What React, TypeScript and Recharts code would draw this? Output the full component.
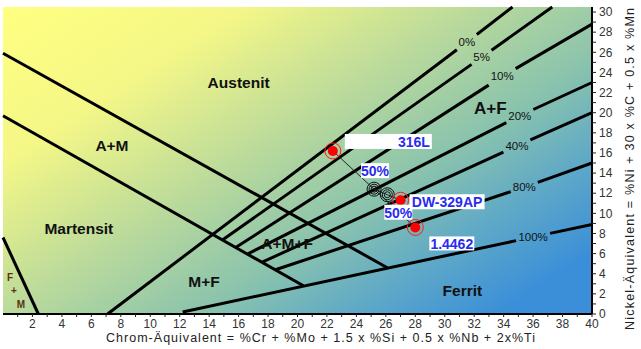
import React from 'react';
import { ComposedChart, XAxis, YAxis, ReferenceLine, ReferenceArea, Scatter } from 'recharts';

// ---------- data ----------
const X_TICKS = [1, 2, 3, 4, 5, 6, 7, 8, 9, 10, 11, 12, 13, 14, 15, 16, 17, 18, 19, 20, 21, 22, 23, 24, 25, 26, 27, 28, 29, 30, 31, 32, 33, 34, 35, 36, 37, 38, 39, 40];
const X_TICK_LABELS = [2, 4, 6, 8, 10, 12, 14, 16, 18, 20, 22, 24, 26, 28, 30, 32, 34, 36, 38, 40];
const Y_TICKS = [0, 1, 2, 3, 4, 5, 6, 7, 8, 9, 10, 11, 12, 13, 14, 15, 16, 17, 18, 19, 20, 21, 22, 23, 24, 25, 26, 27, 28, 29, 30];
const Y_TICK_LABELS = [0, 2, 4, 6, 8, 10, 12, 14, 16, 18, 20, 22, 24, 26, 28, 30];

const X_TITLE = 'Chrom-Äquivalent = %Cr + %Mo + 1.5 x %Si + 0.5 x %Nb + 2x%Ti';
const Y_TITLE = 'Nickel-Äquivalent = %Ni + 30 x %C + 0.5 x %Mn';

// phase boundary lines [x, y]
const austeniteLine = [[0, 25.9], [26.1, 4.6]];
const martensiteLine = [[0, 19.7], [20.4, 2.8]];
const fmLine = [[0, 7.6], [2.4, 0]];

// ferrite iso-lines: start, label point, end
const ferriteLines = [
  { label: '0%', points: [[7.1, 0], [31.5, 27.0], [34.6, 30.5]] },
  { label: '5%', points: [[14.9, 7.35], [32.5, 25.5], [37.3, 30.5]] },
  { label: '10%', points: [[15.8, 6.6], [33.9, 23.6], [40, 28.8]] },
  { label: '20%', points: [[16.6, 5.95], [35.1, 19.7], [40, 23.0]] },
  { label: '40%', points: [[17.6, 5.15], [34.9, 16.7], [40, 20.0]] },
  { label: '80%', points: [[18.5, 4.4], [35.4, 12.6], [40, 15.0]] },
  { label: '100%', points: [[12.2, 0.2], [36.0, 7.65], [40, 8.9]] },
];

const materials = [
  { id: '316L', label: '316L', x: 22.4, y: 16.2 },
  { id: 'DW-329AP', label: 'DW-329AP', x: 27.0, y: 11.3 },
  { id: '1.4462', label: '1.4462', x: 28.0, y: 8.6 },
];
const mixPoints = [
  { id: 'mix1', label: '50%', x: 25.2, y: 12.4 },
  { id: 'mix2', label: '50%', x: 26.1, y: 11.85 },
];

const regionLabels = [
  { text: 'Austenit', x: 16.0, y: 23.0 },
  { text: 'A+M', x: 7.4, y: 16.7 },
  { text: 'Martensit', x: 5.15, y: 8.5 },
  { text: 'A+M+F', x: 19.3, y: 7.05 },
  { text: 'M+F', x: 13.65, y: 3.2 },
  { text: 'A+F', x: 33.1, y: 20.4 },
  { text: 'Ferrit', x: 31.2, y: 2.3 },
];
const fmLabels = [
  { text: 'F', x: 0.48, y: 3.65 },
  { text: '+', x: 0.75, y: 2.3 },
  { text: 'M', x: 1.22, y: 0.9 },
];

// ---------- layout / style ----------
const W = 641;
const H = 349;
const X_MAX = 40;
const Y_MAX = 30.5;
const PLOT_W = 589;
const FONT = 'Liberation Sans, Arial, sans-serif';
const BLUE = '#2b2bf0';

const calloutStyle: Record<string, { bx: number; by: number; bw: number; bh: number; anchor: 'start' | 'middle' | 'end' }> = {
  '316L': { bx: 12, by: -17, bw: 87, bh: 15, anchor: 'end' },
  'DW-329AP': { bx: 9, by: -6, bw: 75, bh: 15, anchor: 'middle' },
  '1.4462': { bx: 14, by: 9, bw: 45, bh: 14, anchor: 'middle' },
  mix1: { bx: -13, by: -26, bw: 28, bh: 15, anchor: 'middle' },
  mix2: { bx: -3, by: 10, bw: 28, bh: 15, anchor: 'middle' },
};

const pt = (p: number[]) => ({ x: p[0], y: p[1] });
const at = (p: number[], q: number[], x: number) => {
  const t = (x - p[0]) / (q[0] - p[0]);
  return { x, y: p[1] + t * (q[1] - p[1]) };
};

const ferriteSegments = ferriteLines.flatMap((l) => {
  const [p0, p1, p2] = l.points;
  const g = ((l.label.length * 7 + 6) / 2) / (PLOT_W / X_MAX);
  return [
    [pt(p0), at(p0, p1, p1[0] - g)],
    [at(p1, p2, p1[0] + g), pt(p2)],
  ];
});
const ferriteLabelPts = ferriteLines.map((l) => ({ text: l.label, x: l.points[1][0], y: l.points[1][1] }));

const tieLines = [
  [pt([materials[0].x, materials[0].y]), pt([materials[2].x, materials[2].y])],
  [pt([mixPoints[0].x, mixPoints[0].y]), pt([materials[1].x, materials[1].y])],
];

const MaterialShape = (props: any) => {
  const { cx, cy } = props;
  if (cx == null || cy == null) return null;
  return (
    <g>
      <circle cx={cx} cy={cy} r={8} fill="none" stroke="#ff1a1a" strokeWidth={1} />
      <circle cx={cx} cy={cy} r={5} fill="#ff0000" />
    </g>
  );
};

const MixShape = (props: any) => {
  const { cx, cy } = props;
  if (cx == null || cy == null) return null;
  return (
    <g fill="none" stroke="#111" strokeWidth={1}>
      <circle cx={cx} cy={cy} r={7} />
      <circle cx={cx} cy={cy} r={5} />
      <circle cx={cx} cy={cy} r={3} />
    </g>
  );
};

const CalloutShape = (props: any) => {
  const { cx, cy, payload } = props;
  if (cx == null || cy == null || !payload) return null;
  const s = calloutStyle[payload.id];
  const x0 = cx + s.bx;
  const y0 = cy + s.by;
  const tx = s.anchor === 'end' ? x0 + s.bw - 2 : s.anchor === 'start' ? x0 + 2 : x0 + s.bw / 2;
  return (
    <g>
      <rect x={x0} y={y0} width={s.bw} height={s.bh} fill="#ffffff" />
      <text x={tx} y={y0 + s.bh / 2 + 0.5} textAnchor={s.anchor} dominantBaseline="central"
        fontFamily={FONT} fontWeight="bold" fontSize={14} fill={BLUE}>{payload.label}</text>
    </g>
  );
};

const RegionShape = (props: any) => {
  const { cx, cy, payload } = props;
  if (cx == null || cy == null || !payload) return null;
  return (
    <text x={cx} y={cy} textAnchor="middle" dominantBaseline="central" fontFamily={FONT}
      fontWeight="bold" fontSize={payload.text === 'A+F' ? 17 : 15.5} fill="#111">{payload.text}</text>
  );
};

const FmShape = (props: any) => {
  const { cx, cy, payload } = props;
  if (cx == null || cy == null || !payload) return null;
  return (
    <text x={cx} y={cy} textAnchor="middle" dominantBaseline="central" fontFamily={FONT}
      fontWeight="bold" fontSize={10} fill="#5a3410">{payload.text}</text>
  );
};

const PctShape = (props: any) => {
  const { cx, cy, payload } = props;
  if (cx == null || cy == null || !payload) return null;
  return (
    <text x={cx} y={cy} textAnchor="middle" dominantBaseline="central" fontFamily={FONT}
      fontSize={11.5} fill="#111">{payload.text}</text>
  );
};

const XTitle = () => (
  <text x={106} y={338} dominantBaseline="central" fontFamily={FONT} fontSize={12.5}
    fill="#222" textLength={429} lengthAdjust="spacing">{X_TITLE}</text>
);

const YTitle = () => {
  const x = 630;
  const y = 330;
  return (
    <text x={x} y={y} transform={`rotate(-90 ${x} ${y})`} dominantBaseline="central" fontFamily={FONT}
      fontSize={12.5} fill="#222" textLength={322} lengthAdjust="spacing">{Y_TITLE}</text>
  );
};

const xFmt = (v: number) => (X_TICK_LABELS.includes(v) ? String(v) : '');
const yFmt = (v: number) => (Y_TICK_LABELS.includes(v) ? String(v) : '');

export default function App() {
  return (
    <div style={{ position: 'absolute', left: 0, top: 0, width: W, height: H, background: '#fff' }}>
      <svg width={0} height={0} style={{ position: 'absolute' }}>
        <defs>
          <linearGradient id="bgGrad" x1="0" y1="0" x2="1" y2="0.8">
            <stop offset="0" stopColor="#ffff80" />
            <stop offset="0.25" stopColor="#f4f787" />
            <stop offset="0.5" stopColor="#b8d99c" />
            <stop offset="0.7" stopColor="#88c2ae" />
            <stop offset="0.85" stopColor="#5ea8c8" />
            <stop offset="1" stopColor="#3b8fd8" />
          </linearGradient>
        </defs>
      </svg>
      <ComposedChart width={W} height={H} margin={{ top: 7, right: 0, bottom: 0, left: 3 }}>
        <XAxis type="number" dataKey="x" domain={[0, X_MAX]} ticks={X_TICKS} interval={0}
          allowDataOverflow tickFormatter={xFmt} height={35} tickSize={3} tickMargin={2}
          axisLine={{ stroke: '#000', strokeWidth: 2 }} tickLine={{ stroke: '#222' }}
          tick={{ fontSize: 12, fill: '#333', fontFamily: FONT }}
          label={{ content: () => <XTitle /> }} />
        <YAxis type="number" dataKey="y" orientation="right" domain={[0, Y_MAX]} ticks={Y_TICKS}
          interval={0} allowDataOverflow tickFormatter={yFmt} width={49} tickSize={4} tickMargin={3}
          axisLine={{ stroke: '#000', strokeWidth: 2 }} tickLine={{ stroke: '#222' }}
          tick={{ fontSize: 12, fill: '#333', fontFamily: FONT, textAnchor: 'start' }}
          label={{ content: () => <YTitle /> }} />
        <ReferenceArea x1={0} x2={X_MAX} y1={0} y2={Y_MAX} fill="url(#bgGrad)" fillOpacity={1} stroke="none" ifOverflow="visible" />
        {[austeniteLine, martensiteLine, fmLine].map((l, i) => (
          <ReferenceLine key={'b' + i} segment={[pt(l[0]), pt(l[1])]} stroke="#000" strokeWidth={3} ifOverflow="visible" />
        ))}
        {ferriteSegments.map((s, i) => (
          <ReferenceLine key={'f' + i} segment={s} stroke="#000" strokeWidth={3} ifOverflow="visible" />
        ))}
        {tieLines.map((s, i) => (
          <ReferenceLine key={'t' + i} segment={s} stroke="#222" strokeWidth={1} ifOverflow="visible" />
        ))}
        <Scatter data={ferriteLabelPts} shape={PctShape} isAnimationActive={false} />
        <Scatter data={regionLabels} shape={RegionShape} isAnimationActive={false} />
        <Scatter data={fmLabels} shape={FmShape} isAnimationActive={false} />
        <Scatter data={mixPoints} shape={MixShape} isAnimationActive={false} />
        <Scatter data={materials} shape={MaterialShape} isAnimationActive={false} />
        <Scatter data={[...materials, ...mixPoints]} shape={CalloutShape} isAnimationActive={false} />
      </ComposedChart>
    </div>
  );
}
